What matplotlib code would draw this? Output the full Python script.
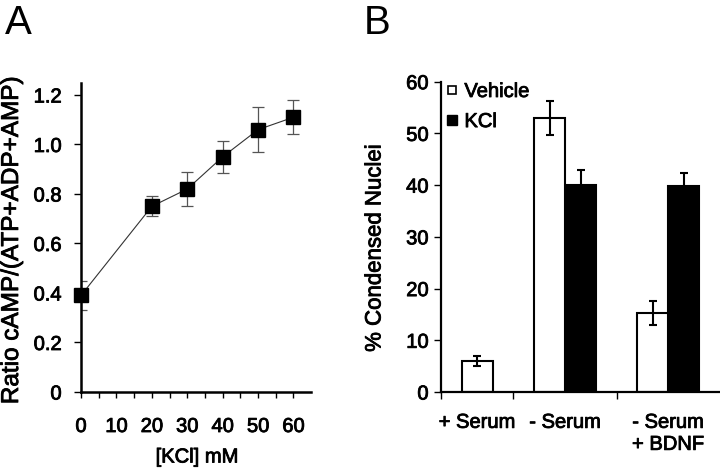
import matplotlib
matplotlib.use("Agg")
import matplotlib.pyplot as plt
import matplotlib.patheffects as pe
from matplotlib.lines import Line2D
import numpy as np

plt.rcParams['font.family'] = ['Liberation Sans', 'DejaVu Sans']

# ---- Panel A data ----
kcl_mM = [0, 20, 30, 40, 50, 60]
ratio = [0.39, 0.75, 0.82, 0.95, 1.06, 1.11]
ratio_err = [0.06, 0.04, 0.07, 0.065, 0.09, 0.068]
a_yticks = [0, 0.2, 0.4, 0.6, 0.8, 1.0, 1.2]
a_yticklabels = ["0", "0.2", "0.4", "0.6", "0.8", "1.0", "1.2"]
a_xticks = [0, 10, 20, 30, 40, 50, 60]

# ---- Panel B data ----
groups = ["+ Serum", "- Serum", "- Serum\n+ BDNF"]
vehicle = [6.0, 53.0, 15.2]
vehicle_err = [1.0, 3.3, 2.3]
kcl = [None, 40.0, 39.8]
kcl_err = [None, 3.0, 2.6]
b_yticks = [0, 10, 20, 30, 40, 50, 60]

W, H = 720, 469
fig = plt.figure(figsize=(W / 100, H / 100), dpi=100)

def ax_px(l, t, r, b):
    return fig.add_axes([l / W, (H - b) / H, (r - l) / W, (b - t) / H])

FS = 14.5
BOLDISH = [pe.withStroke(linewidth=0.6, foreground='black')]

# ---------------- Panel A ----------------
axA = ax_px(81, 82.6, 311.2, 392)
axA.errorbar(kcl_mM, ratio, yerr=ratio_err, fmt='none', ecolor='#555555',
             elinewidth=0.9, capsize=4, capthick=0.9, zorder=2)
axA.plot(kcl_mM, ratio, color='#333333', lw=0.8, marker='s', markersize=10,
         markerfacecolor='black', markeredgecolor='black', zorder=3, clip_on=False)
axA.set_xlim(0, 65)
axA.set_ylim(0, 1.25)
axA.set_yticks(a_yticks)
axA.set_yticklabels(a_yticklabels)
axA.set_xticks(a_xticks)
axA.set_xticks(np.arange(5, 65, 10), minor=True)
for s in ['top', 'right']:
    axA.spines[s].set_visible(False)
for s in ['left', 'bottom']:
    axA.spines[s].set_linewidth(1.8)
axA.tick_params(axis='y', direction='out', length=5, width=1.0, pad=9, labelsize=FS)
axA.tick_params(axis='x', direction='out', length=4, width=1.0, pad=14, labelsize=FS)
axA.tick_params(axis='x', which='minor', direction='out', length=4, width=1.0)
fig.text(12 / W, 1 - 241 / H, "Ratio cAMP/(ATP+ADP+AMP)", rotation=90,
         ha='center', va='center', fontsize=17.5, path_effects=BOLDISH)
fig.text(197 / W, 1 - 457 / H, "[KCl] mM", ha='center', va='center', fontsize=FS,
         path_effects=BOLDISH)
fig.text(5 / W, 1 - 4 / H, "A", ha='left', va='top', fontsize=29)

# ---------------- Panel B ----------------
axB = ax_px(441, 81.7, 719, 392)
bounds = [0, 72, 176, 278]
centers = [(bounds[i] + bounds[i + 1]) / 2 for i in range(3)]
bw = 31
for i, c in enumerate(centers):
    if kcl[i] is None:
        xv = c
    else:
        xv = c - bw / 2
        xk = c + bw / 2
        axB.bar(xk, kcl[i], width=bw, color='black', edgecolor='black',
                linewidth=1.5, zorder=2)
        axB.errorbar(xk, kcl[i], yerr=kcl_err[i], fmt='none', ecolor='black',
                     elinewidth=1.5, capsize=3, capthick=1.5, zorder=3)
    axB.bar(xv, vehicle[i], width=bw, color='white', edgecolor='black',
            linewidth=1.5, zorder=2)
    axB.errorbar(xv, vehicle[i], yerr=vehicle_err[i], fmt='none', ecolor='black',
                 elinewidth=1.5, capsize=3, capthick=1.5, zorder=3)

axB.set_xlim(0, 278)
axB.set_ylim(0, 60)
axB.set_yticks(b_yticks)
axB.set_xticks(bounds[:3])
axB.set_xticklabels([])
axB.set_xticks(centers, groups, minor=True)
for s in ['top', 'right']:
    axB.spines[s].set_visible(False)
for s in ['left', 'bottom']:
    axB.spines[s].set_linewidth(1.6)
axB.tick_params(axis='y', direction='out', length=5, width=1.0, pad=4, labelsize=FS)
axB.tick_params(axis='x', which='major', direction='out', length=5, width=1.0)
axB.tick_params(axis='x', which='minor', length=0, pad=15, labelsize=FS)
for lab in axB.get_xticklabels(minor=True):
    lab.set_linespacing(1.2)
fig.text(375 / W, 1 - 248 / H, "% Condensed Nuclei", rotation=90,
         ha='center', va='center', fontsize=16, path_effects=BOLDISH)
fig.text(364 / W, 1 - 4 / H, "B", ha='left', va='top', fontsize=29)

handles = [
    Line2D([], [], marker='s', linestyle='none', markersize=6,
           markerfacecolor='white', markeredgecolor='black', markeredgewidth=1.2),
    Line2D([], [], marker='s', linestyle='none', markersize=7,
           markerfacecolor='black', markeredgecolor='black'),
]
leg = axB.legend(handles, ["Vehicle", "KCl"], loc='upper left',
                 bbox_to_anchor=(-0.01, 1.025), frameon=False, fontsize=FS,
                 handlelength=0.6, handletextpad=0.3, labelspacing=0.55,
                 borderaxespad=0.0)
for t in leg.get_texts():
    t.set_path_effects(BOLDISH)

for ax in (axA, axB):
    for lab in ax.get_xticklabels() + ax.get_yticklabels() + ax.get_xticklabels(minor=True):
        lab.set_path_effects(BOLDISH)

fig.savefig("out.png", dpi=100)
